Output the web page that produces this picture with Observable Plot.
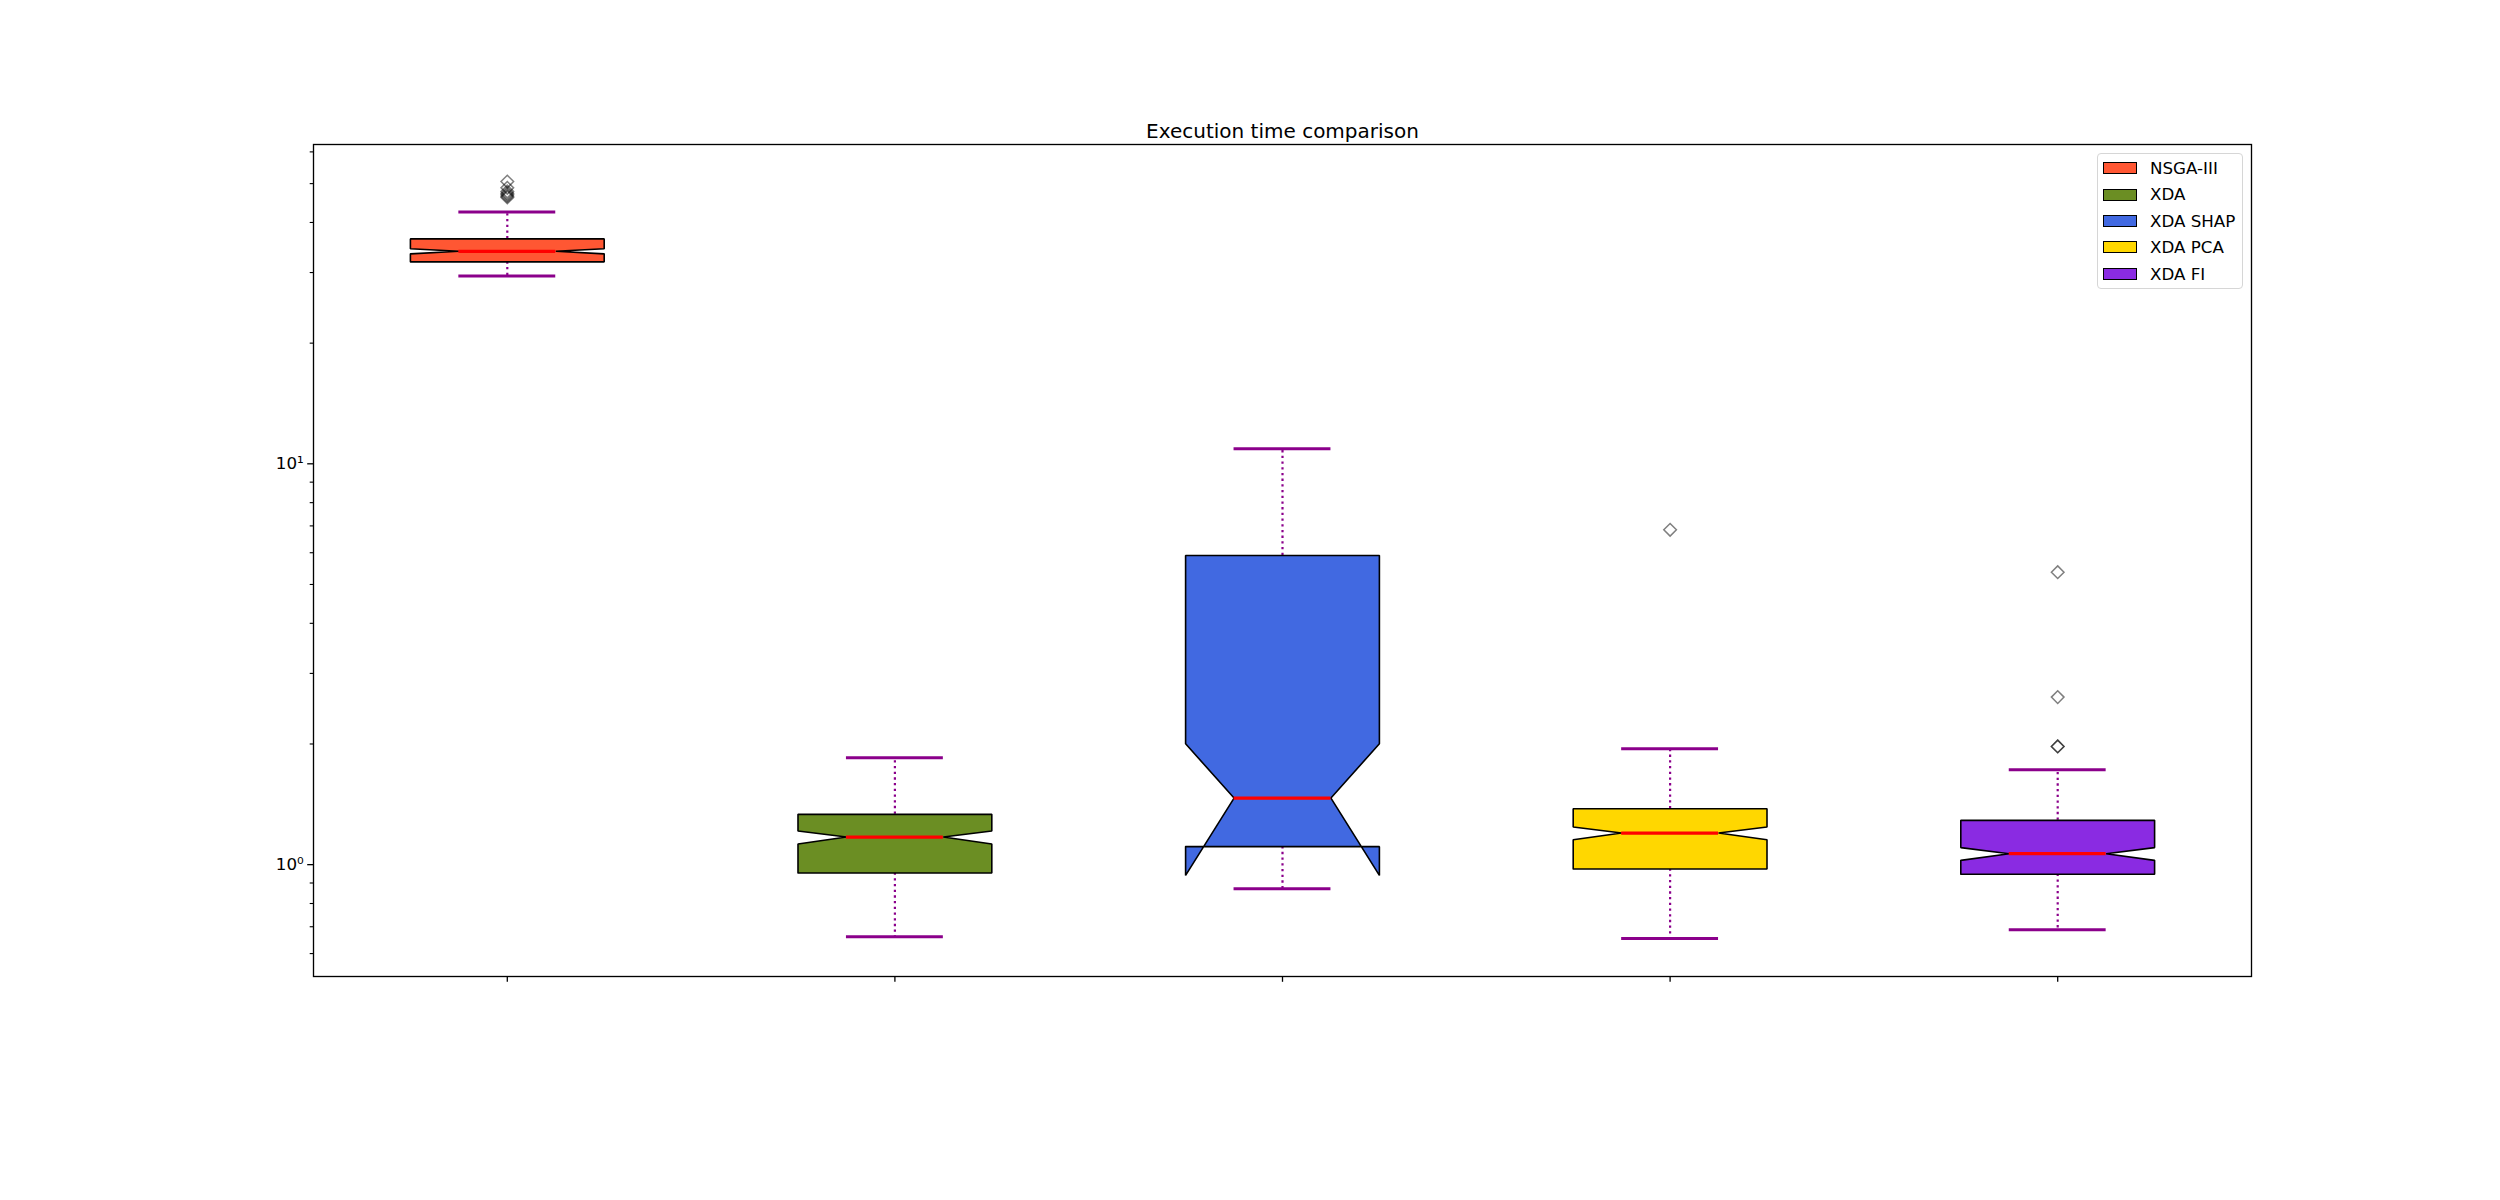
<!DOCTYPE html>
<html>
<head>
<meta charset="utf-8">
<script src="https://cdn.jsdelivr.net/npm/d3@7"></script>
<script src="https://cdn.jsdelivr.net/npm/@observablehq/plot@0.6"></script>
<style>
  html, body { margin: 0; padding: 0; background: white; }
  body { font-family: "DejaVu Sans", sans-serif; color: black; }
  #wrap { position: relative; width: 2500px; height: 1200px; }
  #legend { position: absolute; box-sizing: border-box; border: 1px solid #d6d6d6; border-radius: 4px; background: rgba(255,255,255,0.8); }
  .lrow { position: absolute; display: flex; align-items: center; height: 20px; font-size: 16.7px; white-space: nowrap; }
  .lpatch { position: absolute; box-sizing: border-box; border: 1.5px solid black; }
</style>
</head>
<body>
<div id="wrap"></div>
<script>
// ---- Data ----
const categories = ["NSGA-III", "XDA", "XDA SHAP", "XDA PCA", "XDA FI"];
const colors = ["#FF5733", "#6B8E23", "#4169E1", "#FFD700", "#8A2BE2"];
const q1 = [31.9, 0.953, 1.109, 0.975, 0.946];
const q3 = [36.4, 1.335, 5.906, 1.379, 1.290];
const medians = [33.9, 1.172, 1.466, 1.199, 1.065];
const notchLo = [33.4, 1.126, 0.940, 1.154, 1.025];
const notchHi = [34.4, 1.213, 2.003, 1.241, 1.103];
const whiskerLo = [29.4, 0.661, 0.871, 0.654, 0.688];
const whiskerHi = [42.5, 1.849, 10.9, 1.947, 1.725];
const fliers = [
  [50.6, 48.8, 47.8, 47.3, 46.9, 46.5, 46.2],
  [],
  [],
  [6.845],
  [5.366, 2.618, 1.972, 1.972]
];
const majorTicks = [1, 10];
const majorLabels = ["10\u2070", "10\u00B9"];
const minorTicks = [0.6, 0.7, 0.8, 0.9, 2, 3, 4, 5, 6, 7, 8, 9, 20, 30, 40, 50, 60];
const title = "Execution time comparison";

// ---- Derived tables ----
const idx = categories.map((_, i) => i);
const pos = i => i + 1;
const HW = 0.25;   // box half width (x units)
const NW = 0.125;  // notch / cap half width

const boxPts = [];
idx.forEach(i => {
  const p = pos(i), c = categories[i];
  const verts = [
    [p - HW, q1[i]], [p - HW, notchLo[i]], [p - NW, medians[i]], [p - HW, notchHi[i]],
    [p - HW, q3[i]], [p + HW, q3[i]], [p + HW, notchHi[i]], [p + NW, medians[i]],
    [p + HW, notchLo[i]], [p + HW, q1[i]], [p - HW, q1[i]]
  ];
  verts.forEach(([x, y]) => boxPts.push({cat: c, x, y}));
});
const flierPts = [];
idx.forEach(i => fliers[i].forEach(v => flierPts.push({x: pos(i), y: v})));

const diamondSym = {
  draw(ctx, size) {
    const r = Math.sqrt(size / Math.PI);
    ctx.moveTo(0, -r); ctx.lineTo(r, 0); ctx.lineTo(0, r); ctx.lineTo(-r, 0); ctx.closePath();
  }
};

const purple = "#8B008B";

const chart = Plot.plot({
  width: 2500,
  height: 1200,
  marginLeft: 313,
  marginRight: 249,
  marginTop: 144,
  marginBottom: 224,
  style: {fontFamily: "DejaVu Sans, sans-serif", fontSize: "16.7px", background: "white", color: "black", overflow: "visible"},
  x: {type: "linear", domain: [0.5, 5.5], axis: null, label: null},
  y: {type: "log", domain: [0.526, 62.6], axis: null, label: null},
  color: {domain: categories, range: colors},
  marks: [
    // whiskers
    Plot.ruleX(idx, {x: pos, y1: i => q3[i], y2: i => whiskerHi[i], stroke: purple, strokeWidth: 2.2, strokeDasharray: "2.3,3.4"}),
    Plot.ruleX(idx, {x: pos, y1: i => q1[i], y2: i => whiskerLo[i], stroke: purple, strokeWidth: 2.2, strokeDasharray: "2.3,3.4"}),
    // caps
    Plot.ruleY(idx, {y: i => whiskerHi[i], x1: i => pos(i) - NW, x2: i => pos(i) + NW, stroke: purple, strokeWidth: 3}),
    Plot.ruleY(idx, {y: i => whiskerLo[i], x1: i => pos(i) - NW, x2: i => pos(i) + NW, stroke: purple, strokeWidth: 3}),
    // notched boxes
    Plot.line(boxPts, {x: "x", y: "y", z: "cat", fill: "cat", stroke: "black", strokeWidth: 1.6, strokeLinejoin: "miter", curve: "linear"}),
    // medians
    Plot.ruleY(idx, {y: i => medians[i], x1: i => pos(i) - NW, x2: i => pos(i) + NW, stroke: "red", strokeWidth: 3.3}),
    // fliers
    Plot.dot(flierPts, {x: "x", y: "y", symbol: diamondSym, r: 6.3, fill: "none", stroke: "black", strokeOpacity: 0.5, strokeWidth: 1.5}),
    // axes
    Plot.axisY({ticks: majorTicks, tickFormat: d => majorLabels[majorTicks.indexOf(d)], tickSize: 5.8, tickPadding: 4, fontSize: 16.7, label: null, strokeWidth: 1.3}),
    Plot.axisY({ticks: minorTicks, tickFormat: () => "", tickSize: 3.3, label: null, strokeWidth: 1.1}),
    Plot.axisX({ticks: idx.map(pos), tickFormat: () => "", tickSize: 5.8, label: null, strokeWidth: 1.3}),
    Plot.frame({stroke: "black", strokeWidth: 1.33}),
    // title
    Plot.text([title], {frameAnchor: "top", lineAnchor: "bottom", dy: -7, fontSize: 20, fill: "black"})
  ]
});

const wrap = document.getElementById("wrap");
wrap.appendChild(chart);

// ---- Legend (HTML overlay inside the axes, top right) ----
const legend = document.createElement("div");
legend.id = "legend";
legend.style.left = "2097px";
legend.style.top = "153px";
legend.style.width = "146px";
legend.style.height = "136px";
categories.forEach((c, i) => {
  const cy = 14 + i * 26.4;
  const patch = document.createElement("div");
  patch.className = "lpatch";
  patch.style.left = "4.7px";
  patch.style.top = (cy - 5.9) + "px";
  patch.style.width = "34px";
  patch.style.height = "12px";
  patch.style.background = colors[i];
  legend.appendChild(patch);
  const row = document.createElement("div");
  row.className = "lrow";
  row.style.left = "52px";
  row.style.top = (cy - 10) + "px";
  row.textContent = c;
  legend.appendChild(row);
});
wrap.appendChild(legend);
</script>
</body>
</html>
